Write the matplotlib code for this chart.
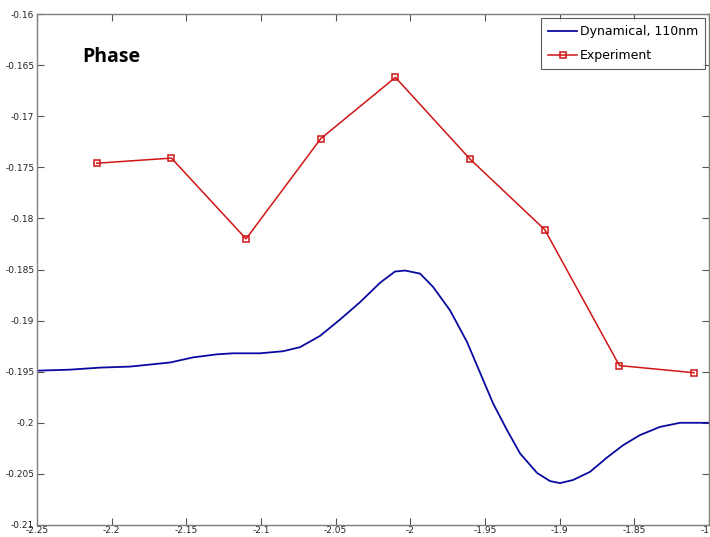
import matplotlib.pyplot as plt
from matplotlib.ticker import FuncFormatter

# Dynamical model curve (110 nm)
model_x = [-2.25, -2.2279, -2.2078, -2.1877, -2.1743, -2.1609, -2.1455, -2.1295,
           -2.1188, -2.1007, -2.0853, -2.0739, -2.0605, -2.0471, -2.0337, -2.0203,
           -2.0103, -2.0036, -1.9935, -1.9848, -1.9734, -1.9620, -1.9533, -1.9446,
           -1.9353, -1.9265, -1.9152, -1.9065, -1.8998, -1.8911, -1.8797, -1.8683,
           -1.8576, -1.8462, -1.8328, -1.8194, -1.80]
model_y = [-0.1949, -0.1948, -0.1946, -0.1945, -0.1943, -0.1941, -0.1936, -0.1933,
           -0.1932, -0.1932, -0.1930, -0.1926, -0.1915, -0.1899, -0.1882, -0.1863,
           -0.1852, -0.1851, -0.1854, -0.1867, -0.1890, -0.1921, -0.1951, -0.1981,
           -0.2007, -0.2030, -0.2049, -0.2057, -0.2059, -0.2056, -0.2048, -0.2034,
           -0.2022, -0.2012, -0.2004, -0.2000, -0.2000]

# Measured phase
exp_x = [-2.21, -2.16, -2.11, -2.06, -2.01, -1.96, -1.91, -1.86, -1.81]
exp_y = [-0.1746, -0.1741, -0.1820, -0.1722, -0.1662, -0.1742, -0.1811, -0.1944, -0.1951]

xticks = [-2.25, -2.2, -2.15, -2.1, -2.05, -2.0, -1.95, -1.9, -1.85, -1.8]
yticks = [-0.21, -0.205, -0.2, -0.195, -0.19, -0.185, -0.18, -0.175, -0.17, -0.165, -0.16]

fig = plt.figure(figsize=(7.1, 5.37), dpi=100)
ax = fig.add_axes([37 / 710, 12 / 537, 672 / 710, 511 / 537])

ax.plot(model_x, model_y, color='#0a0aa0', lw=1.3, label='Dynamical, 110nm')
ax.plot(exp_x, exp_y, color='#d01515', lw=1.1, marker='s', markersize=4.5,
        markerfacecolor='none', markeredgecolor='#d01515', markeredgewidth=1.1,
        label='Experiment')

ax.set_xlim(-2.25, -1.8)
ax.set_ylim(-0.21, -0.16)
ax.set_xticks(xticks)
ax.set_yticks(yticks)
fmt = FuncFormatter(lambda v, p: ('%g' % v))
ax.xaxis.set_major_formatter(fmt)
ax.yaxis.set_major_formatter(fmt)

for s in ax.spines.values():
    s.set_color('#7f7f7f')
    s.set_linewidth(1.0)
ax.tick_params(direction='in', length=5, width=0.8, color='#555555',
               labelsize=6.5, labelcolor='#222222', top=True, right=True, pad=2)
ax.tick_params(axis='x', pad=1)

ax.text(-2.2195, -0.1642, 'Phase', fontsize=14, fontweight='bold',
        family=['Open Sans', 'DejaVu Sans'], va='center', ha='left')

leg = ax.legend(loc='upper right', frameon=True, fancybox=False, borderaxespad=0.3,
                handlelength=2.3, handletextpad=0.2, borderpad=0.6, labelspacing=0.85,
                prop={'family': ['DejaVu Sans'], 'size': 9})
leg.get_frame().set_edgecolor('#333333')
leg.get_frame().set_linewidth(0.8)

fig.savefig('out.png', dpi=100)
